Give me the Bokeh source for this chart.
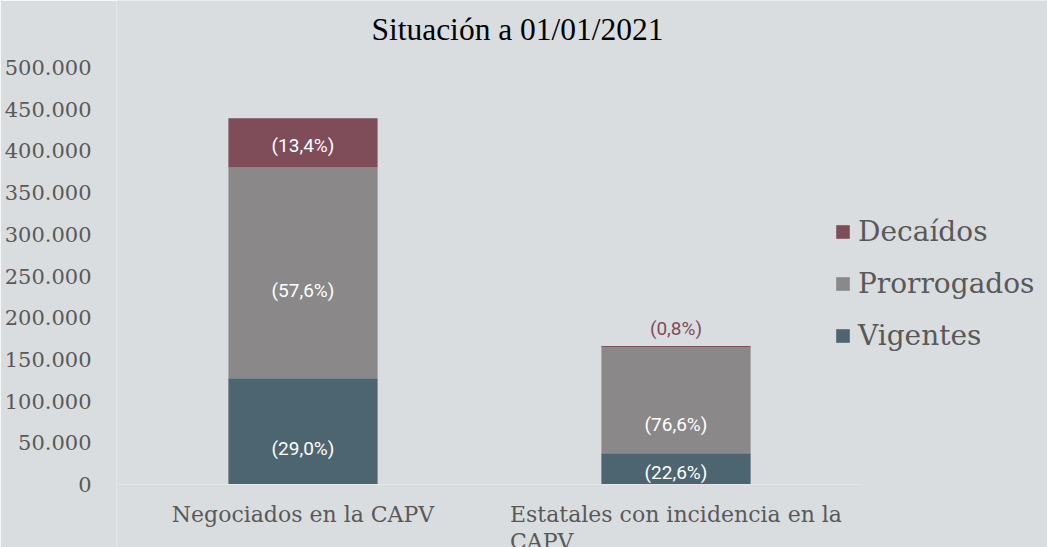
from bokeh.plotting import figure
from bokeh.models import (ColumnDataSource, Range1d, Legend, LegendItem,
                          LabelSet, Label, CustomJSTickFormatter)
from bokeh.core.properties import value
from bokeh.embed import file_html
from bokeh.resources import INLINE

# ---------------- data ----------------
categories = ["Negociados en la CAPV", "Estatales con incidencia en la\nCAPV"]
series = ["Vigentes", "Prorrogados", "Decaídos"]
vigentes = [127300, 37500]
prorrogados = [252900, 127200]
decaidos = [58800, 1300]
pct_vigentes = ["(29,0%)", "(22,6%)"]
pct_prorrogados = ["(57,6%)", "(76,6%)"]
pct_decaidos = ["(13,4%)", "(0,8%)"]
y_ticks = [0, 50000, 100000, 150000, 200000, 250000, 300000, 350000, 400000, 450000, 500000]
title_text = "Situación a 01/01/2021"

# label anchor values (data units) as placed in the reference
lab_y_vigentes = [43000, 14700]
lab_y_prorrogados = [232600, 71600]
lab_y_decaidos = [406000, 187000]

# ---------------- layout / styles ----------------
BG = "#dadde0"
COLORS = {"Vigentes": "#4d6570", "Prorrogados": "#8a8888", "Decaídos": "#7f4c5a"}
TXT = "#595959"
W, H = 1047, 547
LEFT = 116
U = 500000 / 417          # data units per pixel
Y_TOP = 500000 + 67 * U   # frame spans the whole figure height
Y_BOT = -(H - 484) * U
XU = 373                  # pixels per category

xpos = [i + 0.5 for i in range(len(categories))]
src = ColumnDataSource(dict(x=xpos, Vigentes=vigentes,
                            Prorrogados=prorrogados, Decaídos=decaidos))

p = figure(x_range=Range1d(0, (W - LEFT) / XU), y_range=Range1d(Y_BOT, Y_TOP),
           frame_width=W - LEFT, frame_height=H,
           min_border_left=LEFT, min_border_top=0, min_border_right=0, min_border_bottom=0,
           output_backend="svg", toolbar_location=None,
           background_fill_color=BG, border_fill_color=BG)
p.outline_line_color = None
p.grid.visible = False
p.xaxis.visible = False

renderers = p.vbar_stack(series, x="x", width=0.4, source=src,
                         color=[COLORS[s] for s in series], line_color=None)

# faint baseline across the category span
p.segment(x0=[0], y0=[0], x1=[len(categories)], y1=[0], line_color="#e3e5e7", line_width=1)

# data labels
def add_labels(texts, ys, colors):
    s = ColumnDataSource(dict(x=xpos, y=ys, t=texts, c=colors))
    p.add_layout(LabelSet(x="x", y="y", text="t", source=s, text_align="center",
                          text_baseline="middle", text_color="c",
                          text_font=value("Roboto"), text_font_size="19px"))

add_labels(pct_vigentes, lab_y_vigentes, ["white", "white"])
add_labels(pct_prorrogados, lab_y_prorrogados, ["white", "white"])
add_labels(pct_decaidos, lab_y_decaidos, ["white", COLORS["Decaídos"]])

# category labels (below the baseline)
cat_src = ColumnDataSource(dict(x=xpos, y=[-17 * U] * len(categories), t=categories))
p.add_layout(LabelSet(x="x", y="y", text="t", source=cat_src, text_align="center",
                      text_baseline="top", text_color=TXT, text_line_height=1.08,
                      text_font=value("DejaVu Serif"), text_font_size="22px"))

# y axis
p.yaxis.ticker = y_ticks
p.yaxis.formatter = CustomJSTickFormatter(
    code="return tick.toFixed(0).replace(/\\B(?=(\\d{3})+(?!\\d))/g, '.');")
p.yaxis.axis_line_color = None
p.yaxis.major_tick_line_color = None
p.yaxis.minor_tick_line_color = None
p.yaxis.major_label_standoff = 19
p.yaxis.major_label_text_font = "DejaVu Serif"
p.yaxis.major_label_text_font_size = "21px"
p.yaxis.major_label_text_color = TXT

# title
p.add_layout(Label(x=(517 - LEFT) / XU, y=500000 + 38 * U, text=title_text,
                   text_align="center", text_baseline="middle",
                   text_font="Liberation Serif", text_font_size="31.5px",
                   text_color="black"))

# legend (reversed order like the reference)
items = [LegendItem(label=s, renderers=[r]) for s, r in zip(series, renderers)][::-1]
legend = Legend(items=items, location=(718, 195), background_fill_alpha=0,
                border_line_color=None, padding=0, margin=0,
                glyph_width=17, glyph_height=17, label_standoff=7,
                label_height=32, spacing=19,
                label_text_font="DejaVu Serif", label_text_font_size="28px",
                label_text_color=TXT)
p.add_layout(legend, "center")

open("out.html", "w").write(file_html(p, INLINE))
